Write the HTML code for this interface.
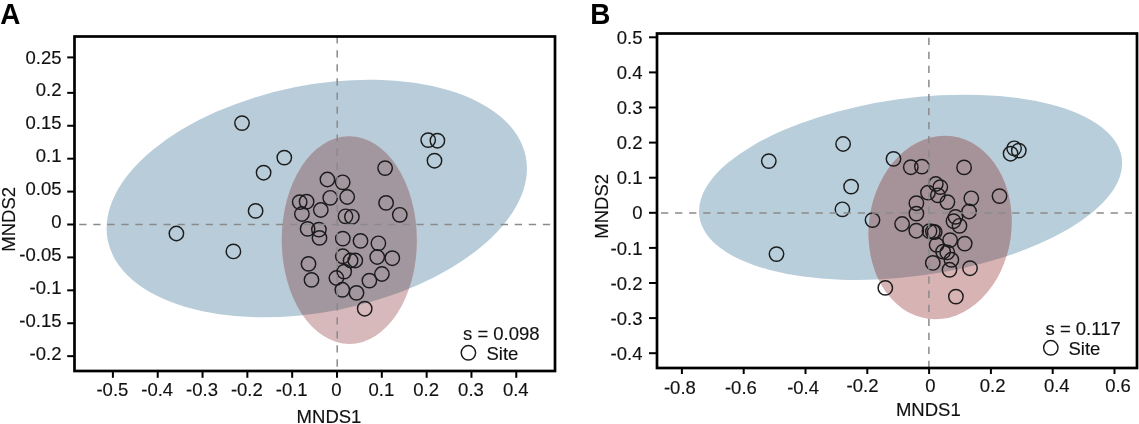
<!DOCTYPE html>
<html><head><meta charset="utf-8"><style>
html,body{margin:0;padding:0;background:#fff;width:1139px;height:424px;overflow:hidden}
svg{position:absolute;left:0;top:0;display:block;will-change:transform}
text{font-family:"Liberation Sans",sans-serif;font-size:18.5px;fill:#111;stroke:#111;stroke-width:0.15px}
text.pl{font-weight:bold;font-size:30px;fill:#000;stroke:none}
circle{fill:none;stroke:#1c1c1c;stroke-width:1.45}
line.d{stroke:#8a8a8a;stroke-width:1.5;stroke-dasharray:7.3 6.75}
line.t{stroke:#000;stroke-width:2}
</style></head><body>
<svg width="1139" height="424" viewBox="0 0 1139 424">
<clipPath id="ab"><ellipse cx="316.77" cy="198.5" rx="213.15" ry="113.39" transform="rotate(-11.34 316.77 198.5)"/></clipPath>
<ellipse cx="316.77" cy="198.5" rx="213.15" ry="113.39" transform="rotate(-11.34 316.77 198.5)" fill="#b8cdd9"/>
<ellipse cx="349.29" cy="240.07" rx="67.56" ry="103.9" transform="rotate(-0.13 349.29 240.07)" fill="#d8b9bb"/>
<g clip-path="url(#ab)"><ellipse cx="349.29" cy="240.07" rx="67.56" ry="103.9" transform="rotate(-0.13 349.29 240.07)" fill="#a3979f"/></g>
<circle cx="242.0" cy="123.1" r="7.2"/>
<circle cx="284.3" cy="157.6" r="7.2"/>
<circle cx="263.6" cy="172.7" r="7.2"/>
<circle cx="255.6" cy="210.9" r="7.2"/>
<circle cx="176.4" cy="233.5" r="7.2"/>
<circle cx="233.4" cy="251.4" r="7.2"/>
<circle cx="428.2" cy="140.1" r="7.2"/>
<circle cx="437.4" cy="140.7" r="7.2"/>
<circle cx="434.5" cy="160.7" r="7.2"/>
<circle cx="327.4" cy="179.5" r="7.2"/>
<circle cx="342.7" cy="182.3" r="7.2"/>
<circle cx="385.1" cy="168.1" r="7.2"/>
<circle cx="330.2" cy="197.8" r="7.2"/>
<circle cx="347.2" cy="197.0" r="7.2"/>
<circle cx="299.7" cy="202.1" r="7.2"/>
<circle cx="306.6" cy="201.7" r="7.2"/>
<circle cx="301.9" cy="214.0" r="7.2"/>
<circle cx="320.8" cy="210.0" r="7.2"/>
<circle cx="345.5" cy="216.3" r="7.2"/>
<circle cx="351.9" cy="216.8" r="7.2"/>
<circle cx="386.1" cy="202.9" r="7.2"/>
<circle cx="399.8" cy="214.8" r="7.2"/>
<circle cx="307.6" cy="228.9" r="7.2"/>
<circle cx="318.9" cy="229.6" r="7.2"/>
<circle cx="319.5" cy="237.9" r="7.2"/>
<circle cx="342.8" cy="238.6" r="7.2"/>
<circle cx="360.5" cy="240.9" r="7.2"/>
<circle cx="378.4" cy="243.3" r="7.2"/>
<circle cx="342.8" cy="256.3" r="7.2"/>
<circle cx="350.6" cy="260.5" r="7.2"/>
<circle cx="355.3" cy="260.5" r="7.2"/>
<circle cx="377.2" cy="257.0" r="7.2"/>
<circle cx="392.3" cy="258.2" r="7.2"/>
<circle cx="344.2" cy="271.6" r="7.2"/>
<circle cx="336.4" cy="278.0" r="7.2"/>
<circle cx="369.4" cy="280.6" r="7.2"/>
<circle cx="381.9" cy="274.0" r="7.2"/>
<circle cx="342.3" cy="289.8" r="7.2"/>
<circle cx="356.5" cy="292.9" r="7.2"/>
<circle cx="364.7" cy="308.7" r="7.2"/>
<circle cx="308.5" cy="263.9" r="7.2"/>
<circle cx="311.5" cy="279.9" r="7.2"/>
<line class="d" x1="79.2" y1="224.5" x2="555" y2="224.5"/>
<line class="d" x1="337.2" y1="36.2" x2="337.2" y2="371"/>
<rect x="74.5" y="36.5" width="480.5" height="334.5" fill="none" stroke="#000" stroke-width="2.7"/>
<line class="t" x1="67.2" y1="57.40" x2="74.5" y2="57.40"/>
<text x="61.5" y="63.54" text-anchor="end">0.25</text>
<line class="t" x1="67.2" y1="92.85" x2="74.5" y2="92.85"/>
<text x="61.5" y="96.45" text-anchor="end">0.2</text>
<line class="t" x1="67.2" y1="125.76" x2="74.5" y2="125.76"/>
<text x="61.5" y="129.36" text-anchor="end">0.15</text>
<line class="t" x1="67.2" y1="158.68" x2="74.5" y2="158.68"/>
<text x="61.5" y="162.28" text-anchor="end">0.1</text>
<line class="t" x1="67.2" y1="191.59" x2="74.5" y2="191.59"/>
<text x="61.5" y="195.19" text-anchor="end">0.05</text>
<line class="t" x1="67.2" y1="224.50" x2="74.5" y2="224.50"/>
<text x="61.5" y="228.10" text-anchor="end">0</text>
<line class="t" x1="67.2" y1="257.41" x2="74.5" y2="257.41"/>
<text x="61.5" y="261.01" text-anchor="end">-0.05</text>
<line class="t" x1="67.2" y1="290.32" x2="74.5" y2="290.32"/>
<text x="61.5" y="293.93" text-anchor="end">-0.1</text>
<line class="t" x1="67.2" y1="323.24" x2="74.5" y2="323.24"/>
<text x="61.5" y="326.84" text-anchor="end">-0.15</text>
<line class="t" x1="67.2" y1="356.15" x2="74.5" y2="356.15"/>
<text x="61.5" y="359.75" text-anchor="end">-0.2</text>
<line class="t" x1="112.90" y1="371" x2="112.90" y2="377.8"/>
<text x="112.40" y="395.6" text-anchor="middle">-0.5</text>
<line class="t" x1="157.72" y1="371" x2="157.72" y2="377.8"/>
<text x="157.22" y="395.6" text-anchor="middle">-0.4</text>
<line class="t" x1="202.54" y1="371" x2="202.54" y2="377.8"/>
<text x="202.04" y="395.6" text-anchor="middle">-0.3</text>
<line class="t" x1="247.36" y1="371" x2="247.36" y2="377.8"/>
<text x="246.86" y="395.6" text-anchor="middle">-0.2</text>
<line class="t" x1="292.18" y1="371" x2="292.18" y2="377.8"/>
<text x="291.68" y="395.6" text-anchor="middle">-0.1</text>
<line class="t" x1="337.00" y1="371" x2="337.00" y2="377.8"/>
<text x="336.50" y="395.6" text-anchor="middle">0</text>
<line class="t" x1="381.82" y1="371" x2="381.82" y2="377.8"/>
<text x="381.32" y="395.6" text-anchor="middle">0.1</text>
<line class="t" x1="426.64" y1="371" x2="426.64" y2="377.8"/>
<text x="426.14" y="395.6" text-anchor="middle">0.2</text>
<line class="t" x1="471.46" y1="371" x2="471.46" y2="377.8"/>
<text x="470.96" y="395.6" text-anchor="middle">0.3</text>
<line class="t" x1="516.28" y1="371" x2="516.28" y2="377.8"/>
<text x="515.78" y="395.6" text-anchor="middle">0.4</text>
<text x="329" y="423" text-anchor="middle">MNDS1</text>
<text transform="translate(15.3 219.3) rotate(-90)" text-anchor="middle">MNDS2</text>
<text x="463" y="340">s = 0.098</text>
<circle cx="468.4" cy="352.8" r="7.2"/>
<text x="486.5" y="359.5">Site</text>
<text class="pl" transform="translate(0.3 24.1) scale(0.93 1)">A</text>
<clipPath id="bb"><ellipse cx="910.55" cy="187.29" rx="213.21" ry="88.81" transform="rotate(-7.835 910.55 187.29)"/></clipPath>
<ellipse cx="910.55" cy="187.29" rx="213.21" ry="88.81" transform="rotate(-7.835 910.55 187.29)" fill="#b8cedb"/>
<ellipse cx="940.12" cy="227.56" rx="71.26" ry="92.03" transform="rotate(7.37 940.12 227.56)" fill="#d8b3b4"/>
<g clip-path="url(#bb)"><ellipse cx="940.12" cy="227.56" rx="71.26" ry="92.03" transform="rotate(7.37 940.12 227.56)" fill="#a69299"/></g>
<circle cx="768.8" cy="161.1" r="7.2"/>
<circle cx="843.1" cy="144.0" r="7.2"/>
<circle cx="776.5" cy="254.1" r="7.2"/>
<circle cx="851.1" cy="186.6" r="7.2"/>
<circle cx="842.4" cy="209.3" r="7.2"/>
<circle cx="872.5" cy="220.1" r="7.2"/>
<circle cx="893.5" cy="158.9" r="7.2"/>
<circle cx="910.8" cy="167.2" r="7.2"/>
<circle cx="921.9" cy="166.6" r="7.2"/>
<circle cx="964.1" cy="167.4" r="7.2"/>
<circle cx="935.8" cy="184.0" r="7.2"/>
<circle cx="940.3" cy="187.1" r="7.2"/>
<circle cx="928.0" cy="192.6" r="7.2"/>
<circle cx="937.9" cy="195.3" r="7.2"/>
<circle cx="947.4" cy="202.1" r="7.2"/>
<circle cx="971.3" cy="198.3" r="7.2"/>
<circle cx="916.4" cy="203.2" r="7.2"/>
<circle cx="916.4" cy="213.6" r="7.2"/>
<circle cx="902.1" cy="224.0" r="7.2"/>
<circle cx="969.1" cy="211.5" r="7.2"/>
<circle cx="955.5" cy="216.9" r="7.2"/>
<circle cx="953.5" cy="221.2" r="7.2"/>
<circle cx="959.5" cy="225.8" r="7.2"/>
<circle cx="929.5" cy="231.2" r="7.2"/>
<circle cx="932.9" cy="231.6" r="7.2"/>
<circle cx="934.7" cy="232.1" r="7.2"/>
<circle cx="916.3" cy="230.7" r="7.2"/>
<circle cx="950.1" cy="240.1" r="7.2"/>
<circle cx="964.7" cy="243.6" r="7.2"/>
<circle cx="936.6" cy="244.9" r="7.2"/>
<circle cx="943.1" cy="251.6" r="7.2"/>
<circle cx="947.3" cy="252.4" r="7.2"/>
<circle cx="951.4" cy="259.8" r="7.2"/>
<circle cx="932.8" cy="262.9" r="7.2"/>
<circle cx="949.5" cy="269.8" r="7.2"/>
<circle cx="970.0" cy="268.2" r="7.2"/>
<circle cx="955.9" cy="296.6" r="7.2"/>
<circle cx="885.3" cy="287.9" r="7.2"/>
<circle cx="1010.6" cy="153.7" r="7.2"/>
<circle cx="1014.1" cy="148.3" r="7.2"/>
<circle cx="1018.8" cy="150.6" r="7.2"/>
<circle cx="999.5" cy="196.1" r="7.2"/>
<line class="d" x1="661" y1="213.0" x2="1137" y2="213.0"/>
<line class="d" x1="928.9" y1="37.7" x2="928.9" y2="368"/>
<rect x="657" y="33.5" width="480" height="334.5" fill="none" stroke="#000" stroke-width="2.7"/>
<line class="t" x1="649" y1="37.30" x2="657" y2="37.30"/>
<text x="642.5" y="43.90" text-anchor="end">0.5</text>
<line class="t" x1="649" y1="72.40" x2="657" y2="72.40"/>
<text x="642.5" y="79.00" text-anchor="end">0.4</text>
<line class="t" x1="649" y1="107.50" x2="657" y2="107.50"/>
<text x="642.5" y="114.10" text-anchor="end">0.3</text>
<line class="t" x1="649" y1="142.60" x2="657" y2="142.60"/>
<text x="642.5" y="149.20" text-anchor="end">0.2</text>
<line class="t" x1="649" y1="177.70" x2="657" y2="177.70"/>
<text x="642.5" y="184.30" text-anchor="end">0.1</text>
<line class="t" x1="649" y1="212.80" x2="657" y2="212.80"/>
<text x="642.5" y="219.40" text-anchor="end">0</text>
<line class="t" x1="649" y1="247.90" x2="657" y2="247.90"/>
<text x="642.5" y="254.50" text-anchor="end">-0.1</text>
<line class="t" x1="649" y1="283.00" x2="657" y2="283.00"/>
<text x="642.5" y="289.60" text-anchor="end">-0.2</text>
<line class="t" x1="649" y1="318.10" x2="657" y2="318.10"/>
<text x="642.5" y="324.70" text-anchor="end">-0.3</text>
<line class="t" x1="649" y1="353.20" x2="657" y2="353.20"/>
<text x="642.5" y="359.80" text-anchor="end">-0.4</text>
<line class="t" x1="681.90" y1="368" x2="681.90" y2="374"/>
<text x="679.90" y="394.1" text-anchor="middle">-0.8</text>
<line class="t" x1="743.70" y1="368" x2="743.70" y2="374"/>
<text x="740.90" y="394.0" text-anchor="middle">-0.6</text>
<line class="t" x1="805.50" y1="368" x2="805.50" y2="374"/>
<text x="803.10" y="394.0" text-anchor="middle">-0.4</text>
<line class="t" x1="867.30" y1="368" x2="867.30" y2="374"/>
<text x="862.50" y="392.3" text-anchor="middle">-0.2</text>
<line class="t" x1="929.10" y1="368" x2="929.10" y2="374"/>
<text x="930.30" y="391.8" text-anchor="middle">0</text>
<line class="t" x1="990.90" y1="368" x2="990.90" y2="374"/>
<text x="992.60" y="391.8" text-anchor="middle">0.2</text>
<line class="t" x1="1052.70" y1="368" x2="1052.70" y2="374"/>
<text x="1056.80" y="391.9" text-anchor="middle">0.4</text>
<line class="t" x1="1114.50" y1="368" x2="1114.50" y2="374"/>
<text x="1118.00" y="391.9" text-anchor="middle">0.6</text>
<text x="928.3" y="416.4" text-anchor="middle">MNDS1</text>
<text transform="translate(608.2 206.3) rotate(-90)" text-anchor="middle">MNDS2</text>
<text x="1045.5" y="334.7">s = 0.117</text>
<circle cx="1050.8" cy="347.8" r="7.2"/>
<text x="1068.5" y="354.5">Site</text>
<text class="pl" transform="translate(590.3 23.9) scale(0.93 1)">B</text>
</svg>
</body></html>
